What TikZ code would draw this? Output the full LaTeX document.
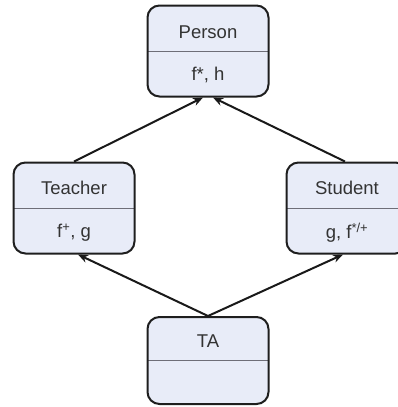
\documentclass[tikz,border=0pt]{standalone}
\usepackage{fontspec}
\setmainfont{Liberation Sans}
\usetikzlibrary{arrows.meta}
\definecolor{boxfill}{RGB}{232,236,248}
\definecolor{boxline}{RGB}{30,30,30}
\definecolor{divline}{RGB}{110,110,120}
\tikzset{
  classbox/.style={draw=boxline, line width=2pt, fill=boxfill, rounded corners=12pt,
    minimum width=121pt, minimum height=91pt, inner sep=0pt,
    path picture={\draw[divline, line width=0.9pt] (path picture bounding box.west) -- (path picture bounding box.east);}},
  lbl/.style={font=\fontsize{18.5}{21}\selectfont, text=black!80, inner sep=0pt},
  arr/.style={draw=black!90, line width=2pt, -{Stealth[length=10pt,width=8pt]}}
}
\begin{document}
\begin{tikzpicture}[x=1pt,y=-1pt]
\useasboundingbox (0,0) rectangle (398,407);
\clip (0,0) rectangle (398,407);
\node[classbox] (person) at (208,51) {};
\node[classbox] (teacher) at (74,208) {};
\node[classbox] (student) at (347,208) {};
\node[classbox, minimum height=87pt] (ta) at (208,360.5) {};
\node[lbl] (personT) at (208,32) {Person};
\node[lbl] (personB) at (208,75) {f*, h};
\node[lbl] (teacherT) at (74,188) {Teacher};
\node[lbl] (teacherB) at (74,233) {f\textsuperscript{+}, g};
\node[lbl] (studentT) at (347,188) {Student};
\node[lbl] (studentB) at (347,233) {g, f\textsuperscript{*/+}};
\node[lbl] (taT) at (208,341) {TA};
\draw[arr] (teacher.north) -- ([xshift=-5pt]person.south);
\draw[arr] ([xshift=-2pt]student.north) -- ([xshift=5pt]person.south);
\draw[arr] (ta.north) -- ([xshift=4pt]teacher.south);
\draw[arr] (ta.north) -- ([xshift=-4pt]student.south);
\end{tikzpicture}
\end{document}
